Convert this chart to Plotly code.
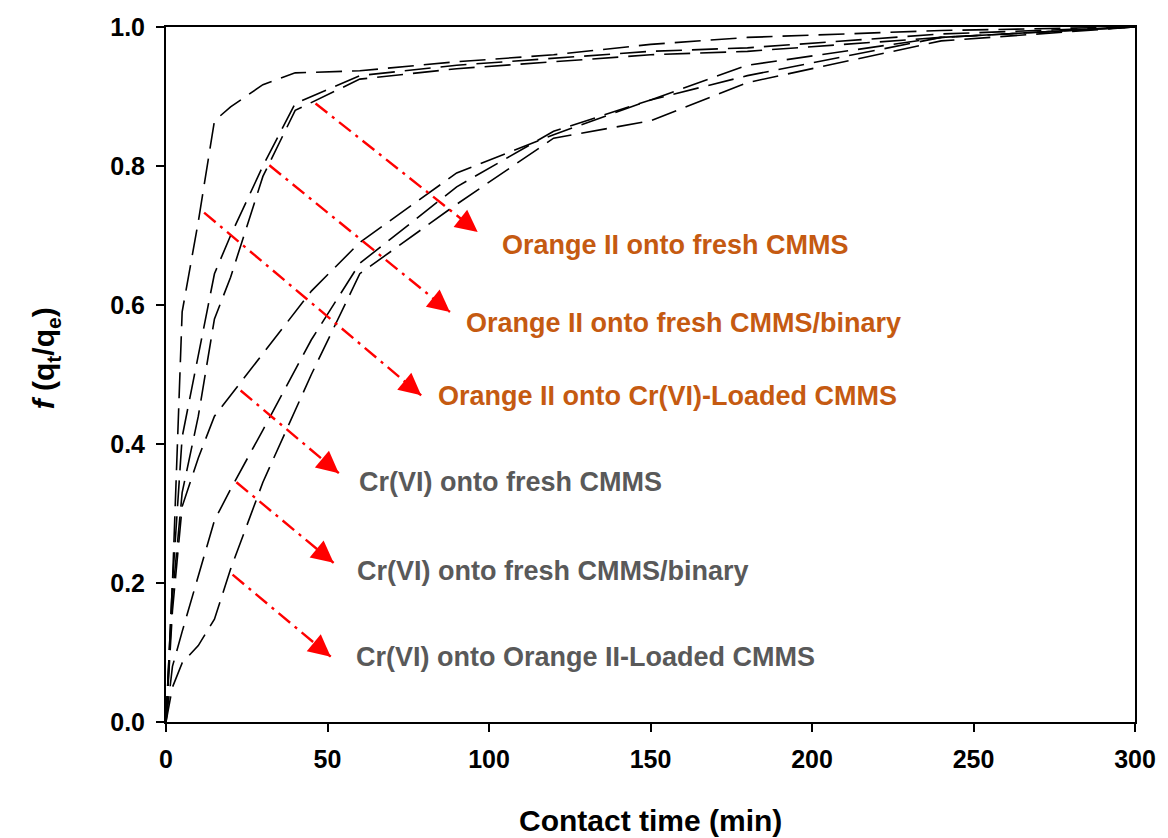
import math
import plotly.graph_objects as go

# Contact times (min)
t_orange = [0, 2, 5, 10, 15, 20, 30, 40, 60, 90, 120, 150, 180, 240, 300]
t_cr = [0, 2, 5, 10, 15, 20, 30, 45, 60, 90, 120, 150, 180, 240, 300]

# Fractional uptake f = qt/qe
orange_fresh = [0, 0.20, 0.59, 0.72, 0.865, 0.885, 0.917, 0.934, 0.937, 0.95, 0.96, 0.975, 0.985, 0.995, 1.0]
orange_binary = [0, 0.20, 0.41, 0.53, 0.645, 0.70, 0.80, 0.89, 0.93, 0.945, 0.955, 0.965, 0.97, 0.99, 1.0]
orange_cr_loaded = [0, 0.18, 0.33, 0.44, 0.58, 0.64, 0.785, 0.88, 0.925, 0.94, 0.95, 0.96, 0.965, 0.985, 1.0]
cr_fresh = [0, 0.16, 0.31, 0.38, 0.44, 0.47, 0.53, 0.62, 0.69, 0.79, 0.845, 0.895, 0.945, 0.985, 1.0]
cr_binary = [0, 0.08, 0.13, 0.21, 0.29, 0.335, 0.42, 0.55, 0.66, 0.77, 0.85, 0.895, 0.93, 0.985, 1.0]
cr_orange_loaded = [0, 0.05, 0.085, 0.11, 0.148, 0.22, 0.345, 0.50, 0.645, 0.745, 0.84, 0.865, 0.92, 0.98, 1.0]

# Series labels and their pointer arrows (tail -> head, in data units)
label_text = [
    "Orange II onto fresh CMMS",
    "Orange II onto fresh CMMS/binary",
    "Orange II onto Cr(VI)-Loaded CMMS",
    "Cr(VI) onto fresh CMMS",
    "Cr(VI) onto fresh CMMS/binary",
    "Cr(VI) onto Orange II-Loaded CMMS",
]
label_x = [103.3, 92.2, 83.6, 59.0, 58.4, 58.1]
label_y = [0.686, 0.574, 0.469, 0.345, 0.217, 0.094]
arrow_x0 = [46.3, 32.0, 11.8, 23.1, 21.8, 20.6]
arrow_y0 = [0.890, 0.801, 0.733, 0.477, 0.345, 0.212]
arrow_x1 = [96.5, 87.9, 79.0, 53.5, 51.9, 51.0]
arrow_y1 = [0.705, 0.590, 0.470, 0.358, 0.229, 0.094]

ORANGE = "#C55A11"
GREY = "#595959"
label_colors = [ORANGE, ORANGE, ORANGE, GREY, GREY, GREY]

FONT = "Liberation Sans, Arial, sans-serif"
W, H = 1168, 838
M_L, M_R, M_T, M_B = 166, 22, 27, 116
X_RANGE = [0, 300]
Y_RANGE = [0, 1.0]
px_per_x = (W - M_L - M_R) / (X_RANGE[1] - X_RANGE[0])
px_per_y = (H - M_T - M_B) / (Y_RANGE[1] - Y_RANGE[0])

fig = go.Figure()

curves = [
    (t_orange, orange_fresh),
    (t_orange, orange_binary),
    (t_orange, orange_cr_loaded),
    (t_cr, cr_fresh),
    (t_cr, cr_binary),
    (t_cr, cr_orange_loaded),
]
for t, f in curves:
    fig.add_trace(go.Scatter(
        x=t, y=f, mode="lines",
        line=dict(color="black", width=1.6, dash="26px,10px"),
        showlegend=False, hoverinfo="skip",
    ))

annotations = []
for i in range(len(label_text)):
    # dash-dot pointer line
    fig.add_trace(go.Scatter(
        x=[arrow_x0[i], arrow_x1[i]], y=[arrow_y0[i], arrow_y1[i]], mode="lines",
        line=dict(color="#FF0000", width=2.4, dash="15px,6px,3px,6px"),
        showlegend=False, hoverinfo="skip",
    ))
    # arrow head at the end of the pointer
    dx = (arrow_x1[i] - arrow_x0[i]) * px_per_x
    dy = -(arrow_y1[i] - arrow_y0[i]) * px_per_y
    n = math.hypot(dx, dy)
    annotations.append(dict(
        x=arrow_x1[i], y=arrow_y1[i], xref="x", yref="y",
        ax=-dx / n * 10, ay=-dy / n * 10,
        text="", showarrow=True, arrowhead=2, arrowsize=2.2, arrowwidth=2,
        arrowcolor="#FF0000", standoff=0, startstandoff=0,
    ))
    annotations.append(dict(
        x=label_x[i], y=label_y[i], xref="x", yref="y",
        text="<b>%s</b>" % label_text[i], showarrow=False,
        xanchor="left", yanchor="middle",
        font=dict(family=FONT, size=27, color=label_colors[i]),
    ))

# axis titles
annotations.append(dict(
    x=(45 - M_L) / (W - M_L - M_R), y=(H - M_B - 358) / (H - M_T - M_B),
    xref="paper", yref="paper",
    text="<b><i>f</i> (q<sub>t</sub>/q<sub>e</sub>)</b>", showarrow=False,
    textangle=-90, xanchor="center", yanchor="middle",
    font=dict(family=FONT, size=30, color="black"),
))
annotations.append(dict(
    x=0.5, y=-(820 - (H - M_B)) / (H - M_T - M_B), xref="paper", yref="paper",
    text="<b>Contact time (min)</b>", showarrow=False,
    xanchor="center", yanchor="middle",
    font=dict(family=FONT, size=30, color="black"),
))

axis_common = dict(
    showline=True, linecolor="black", linewidth=2, mirror=True,
    ticks="outside", ticklen=8, tickwidth=2, tickcolor="black",
    showgrid=False, zeroline=False,
    tickfont=dict(family=FONT, size=25, color="black", weight="bold"),
)

fig.update_layout(
    width=W, height=H,
    margin=dict(l=M_L, r=M_R, t=M_T, b=M_B),
    paper_bgcolor="white", plot_bgcolor="white",
    xaxis=dict(range=X_RANGE, dtick=50, tick0=0, ticklabelstandoff=6, **axis_common),
    yaxis=dict(range=Y_RANGE, dtick=0.2, tick0=0, tickformat=".1f", ticklabelstandoff=6, **axis_common),
    annotations=annotations,
)

fig.write_html("out.html")
